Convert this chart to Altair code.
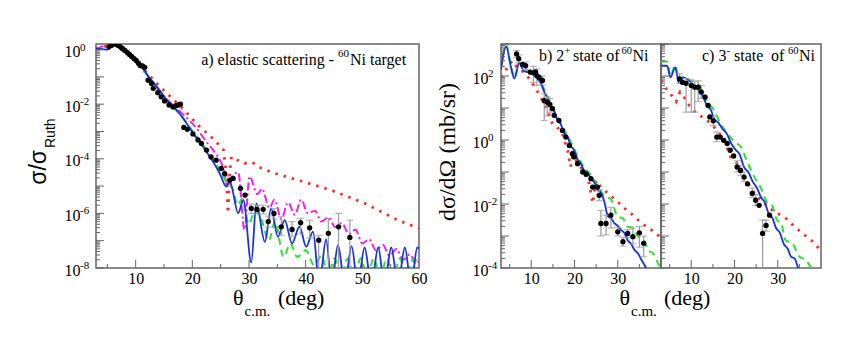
import altair as alt
import numpy as np
import pandas as pd

# ---------------- data (log10 values) ----------------
# panel a: elastic scattering, sigma/sigma_Ruth
A_BLUE_TH = [3, 4, 5, 5.6, 6.3, 7, 8, 9, 10, 11.3, 12.5, 14.2, 15.5, 17.2, 18.5, 20.1, 21.5, 23.1, 24.8,
             26.0, 26.6, 28.1, 29.0, 30.4, 31.3, 32.8, 33.9, 35.1, 36.3, 37.6, 38.9, 40.1, 41.3,
             42.4, 43.6, 44.6, 45.7, 46.9, 48.1, 49.2, 50.4, 51.6, 52.8, 53.9, 55.1, 56.3, 57.5, 58.6, 59.7, 60]
A_BLUE_LG = [0.03, 0.02, 0.0, 0.08, 0.2, 0.12, -0.05, -0.25, -0.45, -0.7, -1.05, -1.48, -1.85, -2.21, -2.55,
             -3.06, -3.45, -3.93, -4.52, -5.02, -4.82, -5.99, -5.51, -7.8, -5.63, -7.04, -5.82, -6.86, -6.25,
             -7.1, -6.49, -7.22, -6.67, -8.6, -6.95, -8.6, -7.15, -8.6, -7.2, -8.6, -7.25, -8.6, -7.25, -8.6,
             -7.25, -8.6, -7.25, -8.6, -7.25, -7.3]
A_GREEN_TH = [3, 5, 6.3, 8, 10, 12.5, 15.5, 18.5, 20.1, 21.5, 23.1, 24.8, 26.0, 27.2, 28.0, 28.8, 30.0,
              31.0, 32.0, 33.5, 34.6, 36.1, 37.3, 38.5, 40.0, 41.5, 42.8, 44.0, 45.1, 46.3, 47.4, 48.6,
              49.7, 50.9, 52.0, 53.2, 54.3, 55.5, 56.6, 57.8, 58.9, 60]
A_GREEN_LG = [0.03, 0.0, 0.2, -0.05, -0.45, -1.05, -1.85, -2.55, -3.0, -3.38, -3.85, -4.4, -4.85, -5.15,
              -5.7, -5.45, -6.4, -5.9, -6.1, -7.0, -6.3, -7.6, -7.1, -7.6, -7.35, -7.9, -7.55, -8.3, -7.65,
              -8.3, -7.65, -8.3, -7.65, -8.3, -7.65, -8.3, -7.65, -8.3, -7.65, -8.3, -7.7, -7.75]
A_MAG_TH = [3, 6.3, 10, 15.5, 18.0, 19.5, 21.0, 22.2, 23.9, 25.3, 26.3, 27.2, 28.1, 29.2, 30.1, 31.5,
            32.3, 33.6, 34.5, 35.7, 36.9, 38.1, 39.2, 40.4, 41.6, 42.8, 44.0, 45.2, 46.4, 47.6, 48.8,
            50.0, 51.2, 52.4, 53.6, 54.8, 56.0, 57.2, 58.4, 59.5, 60]
A_MAG_LG = [0.03, 0.2, -0.45, -1.82, -2.3, -2.6, -2.95, -3.3, -3.75, -4.25, -5.0, -4.6, -4.5, -6.6,
            -4.65, -5.3, -5.1, -5.8, -5.5, -6.2, -5.6, -6.05, -5.5, -6.0, -5.9, -6.3, -6.15, -6.5, -6.35,
            -6.75, -6.6, -7.1, -6.95, -7.35, -7.15, -7.55, -7.3, -7.7, -7.5, -7.85, -7.75]
A_RED_TH = [3, 6.3, 10, 14, 16.5, 18.6, 21.0, 23.9, 25.5, 26.0, 26.3, 26.6, 26.9, 28.0, 29.2, 30.5,
            32.2, 34.5, 38.6, 44.5, 50.4, 56.3, 60]
A_RED_LG = [0.03, 0.2, -0.42, -1.3, -1.8, -2.22, -2.77, -3.31, -3.68, -4.6, -6.0, -4.5, -3.93, -4.05,
            -4.17, -4.12, -4.35, -4.53, -4.78, -5.15, -5.63, -6.25, -6.55]
A_PT_TH = [5.3, 5.7, 6.1, 6.5, 6.9, 7.3, 7.7, 8.1, 8.5, 8.9, 9.3, 9.7, 10.1, 10.5, 10.8, 11.2, 11.6,
           12.2, 12.8, 13.1, 13.9, 14.5, 15.1, 15.9, 16.6, 17.1, 17.5, 17.9, 18.5, 19.1, 20.1, 21.0,
           21.6, 22.5, 23.3, 24.2, 25.1, 25.7, 26.6, 27.2, 28.5, 29.3, 30.4, 31.4, 32.5, 33.4, 34.4,
           35.7, 37.6, 39.1, 40.7, 42.3, 44.0, 45.8, 47.8]
A_PT_LG = [0.1, 0.15, 0.2, 0.2, 0.15, 0.1, 0.03, -0.03, -0.1, -0.18, -0.25, -0.33, -0.4, -0.5, -0.58,
           -0.6, -0.65, -1.12, -1.24, -1.42, -1.58, -1.73, -1.88, -2.03, -2.1, -2.05, -2.03, -2.0, -2.85,
           -2.92, -3.09, -3.31, -3.44, -3.68, -3.93, -4.05, -4.35, -4.54, -4.78, -4.72, -5.08, -5.33,
           -5.82, -5.85, -5.85, -6.3, -6.0, -6.49, -6.59, -6.34, -6.53, -6.98, -6.73, -6.49, -6.88]
A_ERR_TH = [30.4, 31.4, 32.5, 33.4, 34.4, 35.7, 37.6, 39.1, 40.7, 42.3, 44.0, 45.8, 47.8]
A_ERR_LO = [-6.0, -6.02, -6.02, -6.5, -6.2, -6.8, -6.85, -6.75, -6.9, -8.3, -8.3, -8.3, -8.3]
A_ERR_HI = [-5.66, -5.7, -5.7, -6.1, -5.82, -6.12, -6.3, -6.18, -6.25, -6.8, -6.18, -6.0, -6.25]

# panel b: 2+ state, dsigma/dOmega (mb/sr)
B_BLUE_TH = [3.0, 4.2, 5.3, 6.1, 7.2, 8.3, 9.8, 10.6, 11.4, 12.2, 13.0, 13.8, 14.5, 15.3, 16.0, 16.8,
             17.6, 18.4, 19.1, 19.9, 20.7, 21.5, 22.2, 23.0, 23.8, 24.6, 25.3, 26.1, 26.9, 27.7, 28.5,
             29.2, 30.0, 30.8, 31.5, 32.3, 33.1, 33.9, 34.7, 35.5, 36.6, 38.0]
B_BLUE_LG = [2.2, 2.92, 2.28, 1.92, 2.4, 2.15, 2.1, 2.05, 1.91, 1.78, 1.5, 1.3, 1.05, 0.9, 0.63, 0.5,
             0.22, 0.1, -0.17, -0.32, -0.6, -0.75, -0.95, -1.02, -1.21, -1.33, -1.55, -1.65, -1.93,
             -2.38, -2.45, -2.6, -2.68, -2.82, -2.9, -3.13, -3.25, -3.44, -3.55, -3.75, -4.01, -4.4]
B_GREEN_TH = [3.0, 4.2, 5.3, 6.1, 7.2, 8.3, 9.8, 11.4, 13.0, 14.5, 16.0, 17.6, 19.1, 20.7, 22.2, 23.8,
              25.3, 26.9, 28.4, 30.0, 31.2, 32.3, 33.5, 34.7, 35.9, 37.0, 38.2, 39.3, 40.0]
B_GREEN_LG = [2.25, 2.98, 2.3, 1.95, 2.42, 2.2, 2.15, 1.98, 1.58, 1.12, 0.72, 0.32, -0.05, -0.5, -0.85,
              -1.1, -1.42, -1.75, -1.85, -2.4, -2.45, -2.71, -2.75, -3.02, -3.1, -3.44, -3.55, -3.85, -4.0]
B_RED_TH = [3.0, 4.0, 5.6, 6.7, 8.7, 10.6, 12.2, 13.7, 14.9, 16.0, 17.2, 18.4, 19.1, 19.6, 21.1, 22.2,
            23.4, 24.2, 25.0, 26.1, 27.7, 30.0, 31.6, 33.1, 34.7, 36.6, 38.5, 40.0]
B_RED_LG = [1.96, 2.17, 2.48, 2.27, 2.07, 1.7, 1.34, 0.92, 0.51, 0.4, 0.2, -0.33, -0.84, -0.48, -0.79,
            -1.0, -1.36, -1.98, -1.26, -1.47, -1.67, -1.93, -2.14, -2.3, -2.5, -2.71, -2.87, -3.07]
B_PT_TH = [6.6, 7.1, 8.0, 8.7, 9.8, 10.5, 11.0, 11.3, 11.8, 12.6, 13.0, 13.7, 14.3, 14.9, 15.3, 16.4,
           17.2, 18.0, 18.8, 19.5, 19.9, 20.7, 21.9, 22.7, 23.8, 24.2, 25.3, 25.7, 26.1, 27.3, 28.4,
           30.0, 31.2, 32.3, 33.5, 35.0, 36.0]
B_PT_LG = [2.69, 2.54, 2.36, 2.32, 2.12, 2.1, 2.13, 2.01, 1.96, 1.86, 1.23, 1.18, 1.11, 0.98, 0.77,
           0.61, 0.3, 0.09, -0.17, -0.43, -0.53, -0.74, -1.0, -1.07, -1.21, -1.47, -1.47, -1.73, -2.61,
           -2.61, -2.35, -2.87, -3.18, -2.92, -3.02, -2.9, -3.23]
B_ERR_TH = [6.6, 7.1, 8.7, 10.5, 11.3, 12.6, 13.0, 13.7, 14.3, 25.7, 26.1, 27.3, 28.4, 30.0, 31.2,
            32.3, 33.5, 35.0, 36.0]
B_ERR_LO = [2.58, 2.42, 2.2, 1.8, 1.7, 1.72, 0.61, 0.75, 0.85, -1.9, -3.0, -2.97, -2.75, -3.0, -3.32,
            -3.05, -3.25, -3.35, -3.65]
B_ERR_HI = [2.8, 2.66, 2.44, 2.3, 2.22, 2.0, 1.44, 1.35, 1.3, -1.55, -2.2, -2.35, -2.1, -2.74, -3.04,
            -2.8, -2.75, -2.7, -3.0]

# panel c: 3- state
C_BLUE_TH = [3.0, 4.4, 5.2, 6.3, 7.1, 8.3, 9.5, 10.5, 11.4, 12.6, 13.7, 14.5, 15.3, 16.2, 17.2, 18.2,
             19.2, 20.2, 21.2, 22.2, 23.2, 24.2, 25.2, 26.1, 27.0, 27.9, 28.8, 29.6, 30.5, 31.4, 32.3,
             33.1, 33.9, 34.7, 35.5]
C_BLUE_LG = [2.32, 2.32, 1.96, 2.27, 1.8, 1.95, 1.85, 1.72, 1.6, 1.4, 1.05, 0.95, 0.66, 0.55, 0.35, 0.2,
             -0.1, -0.3, -0.45, -0.85, -1.0, -1.3, -1.5, -1.78, -1.95, -2.3, -2.45, -2.75, -2.9, -3.25,
             -3.4, -3.65, -3.7, -4.0, -4.3]
C_GREEN_TH = [3.0, 4.4, 5.2, 6.3, 7.1, 8.3, 9.8, 11.0, 12.9, 14.0, 15.3, 16.8, 18.4, 19.9, 21.5, 23.0,
              24.6, 26.1, 27.7, 28.7, 29.8, 30.8, 31.8, 33.4, 35.0, 36.5, 38.0]
C_GREEN_LG = [2.45, 2.45, 2.0, 2.35, 1.88, 2.0, 1.85, 1.82, 1.4, 1.15, 0.92, 0.5, 0.2, -0.05, -0.22,
              -0.7, -1.16, -1.5, -1.98, -2.05, -2.5, -2.6, -3.13, -3.23, -3.65, -3.75, -4.06]
C_RED_TH = [3.0, 4.2, 5.2, 6.5, 7.4, 8.3, 9.8, 11.4, 13.7, 16.0, 17.6, 19.1, 20.7, 22.2, 24.6, 26.9,
            29.2, 31.5, 33.9, 36.2, 38.6, 40.0]
C_RED_LG = [1.86, 1.6, 1.44, 1.2, 1.5, 1.34, 1.02, 0.82, 0.61, 0.3, -0.01, -0.53, -0.74, -1.16, -1.67,
            -1.98, -2.25, -2.4, -2.71, -2.97, -3.23, -3.49]
C_PT_TH = [7.3, 8.0, 8.8, 10.0, 10.8, 11.6, 12.3, 13.2, 13.9, 14.3, 15.1, 15.9, 16.7, 17.5, 18.3, 19.0,
           19.8, 20.6, 21.4, 22.2, 23.0, 24.1, 24.9, 25.7, 26.5, 27.3, 28.1]
C_PT_LG = [1.91, 1.8, 1.77, 1.7, 1.65, 1.65, 1.5, 1.34, 1.08, 0.72, 0.6, 0.09, 0.09, -0.01, -0.11,
           -0.32, -0.5, -0.84, -0.95, -1.16, -1.37, -1.67, -1.88, -2.04, -2.92, -2.67, -2.35]
C_ERR_TH = [7.3, 8.8, 10.0, 10.8, 11.6, 12.3, 15.1, 15.9, 20.6, 21.4, 22.2, 24.1, 24.9, 26.5, 27.3]
C_ERR_LO = [1.77, 0.87, 0.87, 0.87, 1.2, 1.3, 0.45, -0.05, -1.0, -1.1, -1.3, -1.8, -2.05, -4.3, -2.85]
C_ERR_HI = [2.07, 1.92, 1.88, 1.82, 1.85, 1.7, 0.75, 0.25, -0.65, -0.8, -1.0, -1.5, -1.7, -2.5, -2.5]

# axis labels: decade values and their exponents
A_Y_LABELS = [1, 1e-2, 1e-4, 1e-6, 1e-8]
A_Y_EXP = ["0", "-2", "-4", "-6", "-8"]
B_Y_LABELS = [1e2, 1, 1e-2, 1e-4]
B_Y_EXP = ["2", "0", "-2", "-4"]
A_X_LABELS = [10, 20, 30, 40, 50, 60]
BC_X_LABELS = [10, 20, 30]

# ---------------- styling ----------------
FRAME = "#646464"
SERIF = "Liberation Serif, Times New Roman, serif"
SANS = "Liberation Sans, Arial, sans-serif"
BLUE, GREEN, MAG, RED = "#1531e0", "#2fe02f", "#f020f0", "#f03030"
H = 224


def line_df(th, lg):
    return pd.DataFrame({"theta": th, "val": np.power(10.0, lg)})


def err_df(th, lo, hi):
    return pd.DataFrame({"theta": th, "lo": np.power(10.0, lo), "hi": np.power(10.0, hi)})


def text(s, x, y, size, font=SERIF, angle=0, align="left"):
    return alt.Chart(pd.DataFrame({"t": [s]})).mark_text(
        align=align, baseline="alphabetic", font=font, fontSize=size, angle=angle, color="black"
    ).encode(text="t:N", x=alt.value(x), y=alt.value(y))


def panel(W, xdom, ydom, lines, pts, errs, xlabels, ylabels, yexp, ypad, decades, xmajor, xminor, texts):
    xs = alt.Scale(domain=xdom, nice=False, zero=False)
    ys = alt.Scale(type="log", domain=ydom, nice=False)
    xaxis = alt.Axis(values=xlabels, ticks=False, domain=False, grid=False, title=None, labelFont=SERIF,
                     labelFontSize=16, labelColor="black", labelPadding=2, labelFlush=False,
                     labelOverlap=False, format="d")
    if ylabels is not None:
        yaxis = alt.Axis(values=ylabels, labelExpr="'10'", ticks=False, domain=False, grid=False,
                         title=None, labelFont=SERIF, labelFontSize=16, labelColor="black",
                         labelPadding=ypad, labelOffset=2, labelFlush=False, labelOverlap=False)
    else:
        yaxis = None

    def X(f):
        return alt.X(f, scale=xs, axis=xaxis)

    def Y(f):
        return alt.Y(f, scale=ys, axis=yaxis)

    layers = []
    for (th, lg, color, dash, width, interp) in lines:
        kw = dict(color=color, strokeWidth=width, clip=True, interpolate=interp)
        if dash:
            kw["strokeDash"] = dash
        layers.append(alt.Chart(line_df(th, lg)).mark_line(**kw).encode(x=X("theta:Q"), y=Y("val:Q")))
    edf = err_df(*errs)
    layers.append(alt.Chart(edf).mark_rule(color="#9a9a9a", strokeWidth=1.2, clip=True).encode(
        x=X("theta:Q"), y=Y("lo:Q"), y2="hi:Q"))
    for f in ("lo", "hi"):
        layers.append(alt.Chart(edf).mark_tick(orient="horizontal", size=7, thickness=1.2,
                                               color="#9a9a9a", clip=True).encode(
            x=X("theta:Q"), y=Y(f + ":Q")))
    layers.append(alt.Chart(line_df(*pts)).mark_circle(size=28, color="black", opacity=1, clip=True).encode(
        x=X("theta:Q"), y=Y("val:Q")))
    # inward ticks on the left and bottom edges
    lo_e, hi_e = decades
    dec = [10.0 ** k for k in range(lo_e, hi_e + 1) if 10.0 ** k <= ydom[1]]
    minor = [m * 10.0 ** k for k in range(lo_e, hi_e + 1) for m in range(2, 10) if m * 10.0 ** k <= ydom[1]]
    for vals, ln in ((dec, 8), (minor, 4)):
        layers.append(alt.Chart(pd.DataFrame({"v": vals})).mark_rule(color=FRAME, strokeWidth=1).encode(
            y=Y("v:Q"), x=alt.value(0), x2=alt.value(ln)))
    for vals, ln in ((xmajor, 8), (xminor, 4)):
        layers.append(alt.Chart(pd.DataFrame({"v": vals})).mark_rule(color=FRAME, strokeWidth=1).encode(
            x=X("v:Q"), y=alt.value(H), y2=alt.value(H - ln)))
    # exponents of the y tick labels
    if ylabels is not None:
        layers.append(alt.Chart(pd.DataFrame({"v": ylabels, "e": yexp})).mark_text(
            align="left", baseline="alphabetic", font=SERIF, fontSize=11, dy=1, color="black").encode(
            y=Y("v:Q"), x=alt.value(-ypad), text="e:N"))
    layers.extend(texts)
    return alt.layer(*layers).properties(width=W, height=H)


pa = panel(
    323, [3, 60], [1e-8, 1.6],
    [(A_RED_TH, A_RED_LG, RED, [2.5, 6], 2.8, "linear"),
     (A_MAG_TH, A_MAG_LG, MAG, [8, 3, 2, 3], 2.0, "monotone"),
     (A_GREEN_TH, A_GREEN_LG, GREEN, [7, 5], 2.0, "monotone"),
     (A_BLUE_TH, A_BLUE_LG, BLUE, None, 1.8, "monotone")],
    (A_PT_TH, A_PT_LG), (A_ERR_TH, A_ERR_LO, A_ERR_HI),
    A_X_LABELS, A_Y_LABELS, A_Y_EXP, 16, (-8, 0), [10, 20, 30, 40, 50], [5, 15, 25, 35, 45, 55],
    [text("a) elastic scattering -", 238, 21, 16, align="right"),
     text("60", 242, 13, 11),
     text("Ni target", 254, 21, 16),
     text("σ/σ", -50, 106, 23, font=SANS, angle=270, align="right"),
     text("Ruth", -41.5, 104, 14, font=SANS, angle=270, align="left"),
     text("θ", 137, 261, 22), text("c.m.", 148.5, 272, 15), text("(deg)", 182, 261, 22)])

pb = panel(
    160, [3, 40], [1e-4, 1000],
    [(B_RED_TH, B_RED_LG, RED, [2.5, 6], 2.8, "linear"),
     (B_GREEN_TH, B_GREEN_LG, GREEN, [7, 5], 2.0, "monotone"),
     (B_BLUE_TH, B_BLUE_LG, BLUE, None, 1.8, "monotone")],
    (B_PT_TH, B_PT_LG), (B_ERR_TH, B_ERR_LO, B_ERR_HI),
    BC_X_LABELS, B_Y_LABELS, B_Y_EXP, 13, (-4, 3), [10, 20, 30], [5, 15, 25, 35],
    [text("b) 2", 38, 17, 16), text("+", 63.5, 10, 10.5),
     text("state of", 72, 17, 16), text("60", 120.5, 10, 10.5), text("Ni", 131.5, 17, 16),
     text("dσ/dΩ (mb/sr)", -46, 108, 24, angle=270, align="center"),
     text("θ", 118.5, 261, 22), text("c.m.", 130, 272, 15), text("(deg)", 163, 261, 22)])

pc = panel(
    160, [3, 40], [1e-4, 1000],
    [(C_RED_TH, C_RED_LG, RED, [2.5, 6], 2.8, "linear"),
     (C_GREEN_TH, C_GREEN_LG, GREEN, [7, 5], 2.0, "monotone"),
     (C_BLUE_TH, C_BLUE_LG, BLUE, None, 1.8, "monotone")],
    (C_PT_TH, C_PT_LG), (C_ERR_TH, C_ERR_LO, C_ERR_HI),
    BC_X_LABELS, None, None, 13, (-4, 3), [10, 20, 30], [5, 15, 25, 35],
    [text("c) 3", 41, 17, 16), text("-", 65.5, 10, 11),
     text("state", 73, 17, 16), text("of", 110, 17, 16), text("60", 127, 10, 10.5),
     text("Ni", 138, 17, 16)])

right = alt.hconcat(pb, pc, spacing=0, bounds="flush")
chart = alt.hconcat(pa, right, spacing=82, bounds="flush").resolve_scale(
    x="independent", y="independent"
).configure_view(stroke=FRAME, strokeWidth=1.5).properties(
    padding={"left": 19, "top": 32, "right": 5, "bottom": 5}, background="white"
)

chart.save("out.html", embed_options={"renderer": "svg", "actions": False})
